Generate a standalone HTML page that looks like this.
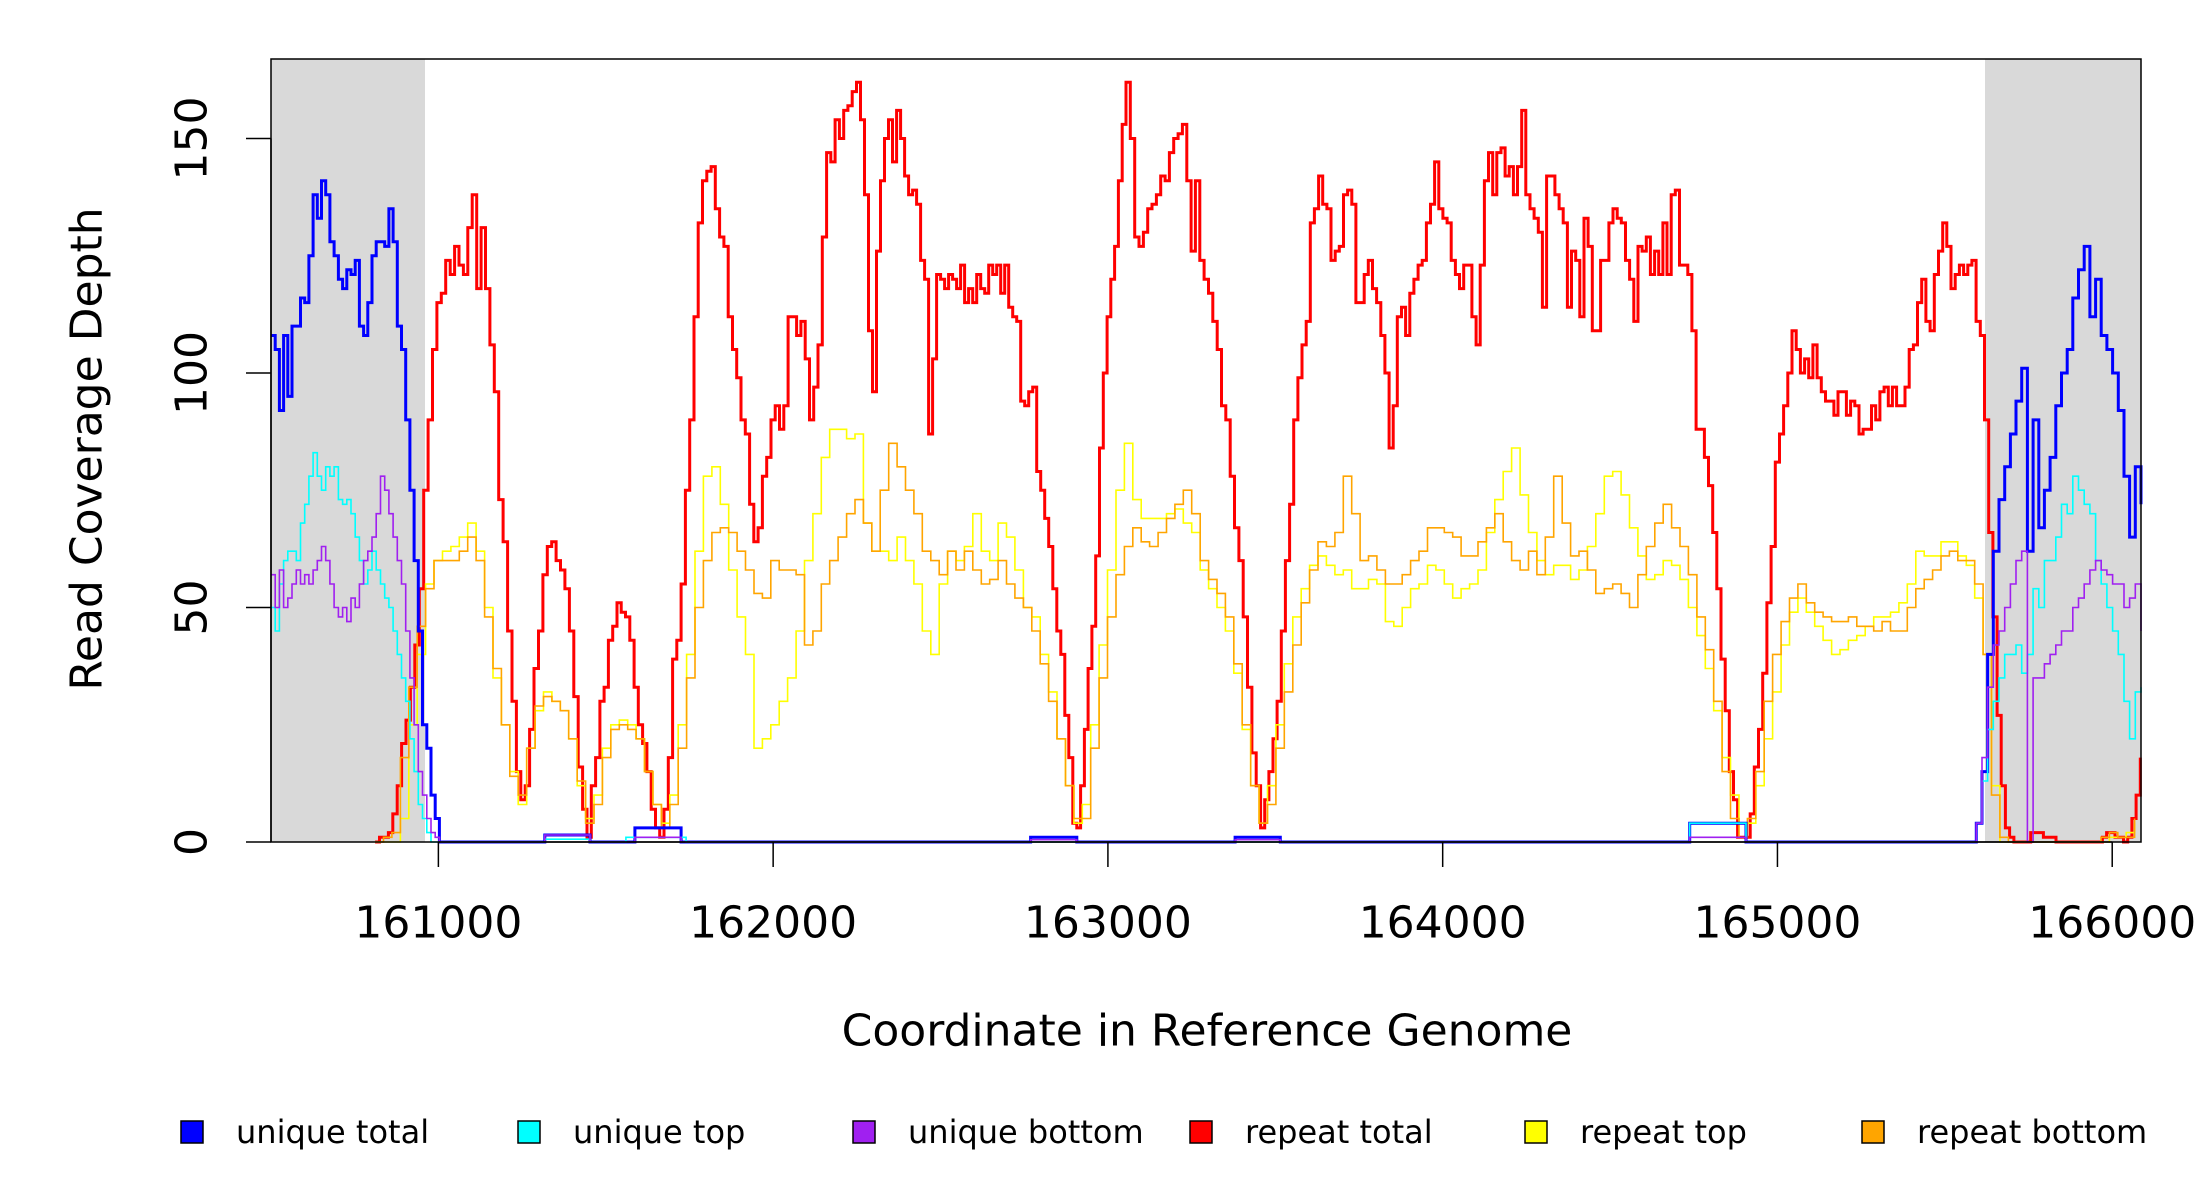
<!DOCTYPE html>
<html><head><meta charset="utf-8">
<style>
html,body{margin:0;padding:0;background:#fff;}
svg{display:block;font-family:"DejaVu Sans","Liberation Sans",sans-serif;}
</style></head>
<body>
<svg id="chart" width="2200" height="1200" viewBox="0 0 2200 1200" xmlns="http://www.w3.org/2000/svg">
<rect x="0" y="0" width="2200" height="1200" fill="#fff"/>
<g id="shade"></g>
<g id="series"></g>
<rect x="271" y="59" width="1870" height="783" fill="none" stroke="#000" stroke-width="1.5"/>
<g id="yaxis"></g>
<g id="xaxis"></g>
<text x="87" y="449" transform="rotate(-90 87 449)" text-anchor="middle" dominant-baseline="central" font-size="44">Read Coverage Depth</text>
<text x="1207" y="1031" text-anchor="middle" dominant-baseline="central" font-size="44">Coordinate in Reference Genome</text>
<g id="legend"></g>
</svg>
<script>
// ---- data ----
const xTicks = [161000, 162000, 163000, 164000, 165000, 166000];
const yTicks = [0, 50, 100, 150];
const shadeRegions = [[160500, 160960], [165620, 166086]];
const seriesNames = ["unique total", "unique top", "unique bottom", "repeat total", "repeat top", "repeat bottom"];
const seriesColors = ["#0000ff", "#00ffff", "#a020f0", "#ff0000", "#ffff00", "#ffa500"];

// genome position anchors for the repeat-total samples (sample index -> coordinate)
const repeatTotalAnchorIdx = [0, 48, 111, 166, 179, 210, 273, 325, 389, 421];
const repeatTotalAnchorPos = [160811, 161444, 162249, 162907, 163054, 163456, 164236, 164881, 165681, 166084];
const repeatTotal = [0,1,1,2,6,12,21,26,33,42,54,75,90,105,115,117,124,121,127,123,121,131,138,118,131,118,106,96,73,64,45,30,15,9,12,24,37,45,57,63,64,60,58,54,45,31,16,7,1,12,18,30,33,43,46,51,49,48,43,33,25,21,15,7,3,1,7,18,39,43,55,75,90,112,132,141,143,144,135,129,127,112,105,99,90,87,72,64,67,78,82,90,93,88,93,112,112,108,111,103,90,97,106,129,147,145,154,150,156,157,160,162,154,138,109,96,126,141,150,154,145,156,150,142,138,139,136,124,120,87,103,121,120,118,121,120,118,123,115,118,115,121,118,117,123,121,123,117,123,114,112,111,94,93,96,97,79,75,69,63,54,45,40,27,18,4,3,12,24,37,46,61,84,100,112,120,127,141,153,162,150,129,127,130,135,136,138,142,141,147,150,151,153,141,126,141,124,120,117,111,105,93,90,78,67,60,48,33,19,12,3,9,15,22,30,45,60,72,90,99,106,111,132,135,142,136,135,124,126,127,138,139,136,115,115,121,124,118,115,108,100,84,93,112,114,108,117,120,123,124,132,136,145,135,133,132,124,121,118,123,123,112,106,123,141,147,138,147,148,142,144,138,144,156,138,135,133,130,114,142,142,138,135,132,114,126,124,112,133,127,109,109,124,124,132,135,133,132,124,120,111,127,126,129,121,126,121,132,121,138,139,123,123,121,109,88,88,82,76,66,54,39,28,15,9,1,1,1,6,16,24,36,51,63,81,87,93,100,109,105,100,103,99,106,99,96,94,94,91,96,96,91,94,93,87,88,88,93,90,96,97,93,97,93,93,97,105,106,115,120,111,109,121,126,132,127,118,121,123,121,123,124,111,108,90,66,48,27,12,3,1,0,0,0,0,2,2,2,1,1,1,0,0,0,0,0,0,0,0,0,0,0,1,2,2,1,1,0,1,5,10,18];

const repeatStrandStart = 160811, repeatStrandEnd = 166067;
const repeatBottom = [0,1,2,18,33,46,54,60,60,60,62,65,60,48,37,25,14,10,20,29,31,30,28,22,13,4,8,18,24,25,24,22,15,8,3,8,20,35,50,60,66,67,66,62,58,53,52,60,58,58,57,42,45,55,60,65,70,73,68,62,75,85,80,75,70,62,60,57,62,58,62,58,55,56,60,55,52,50,45,38,30,22,12,5,5,20,35,48,57,63,67,64,63,66,69,72,75,70,60,56,53,48,38,25,12,4,8,20,32,42,51,58,64,63,66,78,70,60,61,58,55,55,57,60,62,67,67,66,65,61,61,64,67,70,64,60,58,62,57,65,78,68,61,62,58,53,54,55,53,50,57,63,68,72,67,63,57,48,41,30,15,5,1,5,15,30,40,47,52,55,51,49,48,47,47,48,46,46,45,47,45,45,50,54,56,58,61,62,60,60,55,40,10,1,0,0,0,0,0,0,0,0,0,0,0,1,2,1,1,5];
const repeatTop = [0,0,0,5,25,40,55,60,62,63,65,68,62,50,35,25,15,8,20,28,32,30,28,22,12,5,10,20,25,26,25,22,15,8,4,10,25,40,62,78,80,72,58,48,40,20,22,25,30,35,45,60,70,82,88,88,86,87,68,62,62,60,65,60,55,45,40,55,62,60,63,70,62,60,68,65,58,50,48,40,32,22,12,4,8,25,42,58,75,85,73,69,69,69,70,71,68,66,58,54,50,45,36,24,12,4,12,25,38,48,54,59,61,59,57,58,54,54,56,55,47,46,50,54,55,59,58,55,52,54,55,58,66,73,79,84,74,66,60,57,59,59,56,58,63,70,78,79,74,67,61,56,57,60,59,56,50,44,37,28,18,10,4,4,12,22,32,42,49,52,49,46,43,40,41,43,44,46,48,48,49,51,55,62,61,61,64,64,61,59,52,40,12,0,0,0,0,0,0,0,0,0,0,0,0,0,1,1,2,4];

const uniqueLeftStart = 160500, uniqueLeftEnd = 161003;
const uniqueTotalLeft = [108,105,92,108,95,110,110,116,115,125,138,133,141,138,128,125,120,118,122,121,124,110,108,115,125,128,128,127,135,128,110,105,90,75,60,45,25,20,10,5,0];
const uniqueTopLeft = [50,45,55,60,62,62,60,68,72,78,83,78,75,80,78,80,73,72,73,70,65,60,55,58,62,58,55,52,50,45,40,35,30,22,15,8,5,2,0,0,0];
const uniqueBottomLeft = [57,50,58,50,52,55,58,55,57,55,58,60,63,60,55,50,48,50,47,52,50,55,60,62,65,70,78,75,70,65,60,55,45,35,25,15,10,5,2,1,0];

const uniqueRightStart = 165577, uniqueRightEnd = 166086;
const uniqueTotalRight = [0,4,15,40,62,73,80,87,94,101,62,90,67,75,82,93,100,105,116,122,127,112,120,108,105,100,92,78,65,80,72];
const uniqueTopRight = [0,4,13,24,30,35,40,40,42,36,40,54,50,60,60,65,72,70,78,75,72,70,60,55,50,45,40,30,22,32,33];
const uniqueBottomRight = [0,4,18,33,42,45,50,55,60,62,0,35,35,38,40,42,45,45,50,52,55,58,60,58,57,55,55,50,52,55,45];

// small mid-range bumps: [start, end, depth]
const uniqueTotalBumps = [[161318,161453,1.5],[161587,161725,3],[162769,162907,1],[163380,163515,1],[164738,164906,4]];
const uniqueTopBumps = [[161318,161453,0.6],[161560,161740,1],[164738,164906,4]];
const uniqueBottomBumps = [[161318,161453,1.5],[161587,161725,1],[162769,162907,0.5],[163380,163515,0.5],[164738,164906,1]];

// ---- scales ----
const X0 = 160500, X1 = 166086, PX0 = 271, PX1 = 2141;
const PY0 = 842, PPU = (842 - 138.5) / 150;
function sx(c){ return PX0 + (c - X0) * (PX1 - PX0) / (X1 - X0); }
function sy(v){ return PY0 - v * PPU; }
const NS = "http://www.w3.org/2000/svg";
function mk(tag, attrs, parent){ const e = document.createElementNS(NS, tag); for (const k in attrs) e.setAttribute(k, attrs[k]); parent.appendChild(e); return e; }

function gridPoints(start, end, vals){
  const step = (end - start) / (vals.length - 1);
  return vals.map((v, i) => [start + i * step, v]);
}
function anchoredPoints(idx, pos, vals){
  return vals.map((v, i) => {
    let k = 0;
    while (k < idx.length - 2 && i > idx[k + 1]) k++;
    const t = (i - idx[k]) / (idx[k + 1] - idx[k]);
    return [pos[k] + t * (pos[k + 1] - pos[k]), v];
  });
}
function stepPath(pts){
  let d = "M" + sx(pts[0][0]).toFixed(1) + "," + sy(pts[0][1]).toFixed(1);
  for (let i = 1; i < pts.length; i++){
    d += "H" + sx(pts[i][0]).toFixed(1) + "V" + sy(pts[i][1]).toFixed(1);
  }
  return d;
}
function uniquePoints(left, right, bumps){
  let pts = gridPoints(uniqueLeftStart, uniqueLeftEnd, left);
  bumps.forEach(b => { pts.push([b[0], 0]); pts.push([b[0], b[2]]); pts.push([b[1], 0]); });
  pts.push([uniqueRightStart, 0]);
  pts = pts.concat(gridPoints(uniqueRightStart, uniqueRightEnd, right));
  return pts;
}

// shading
const shade = document.getElementById("shade");
shadeRegions.forEach((r, i) => {
  const e = mk("rect", {x: sx(r[0]), y: 59, width: sx(r[1]) - sx(r[0]), height: 783, fill: "#d9d9d9"}, shade);
  
  
});

// series
const sg = document.getElementById("series");
const drawList = [
  {name: "repeat-total-line", pts: anchoredPoints(repeatTotalAnchorIdx, repeatTotalAnchorPos, repeatTotal), color: seriesColors[3], w: 3},
  {name: "repeat-top-line", pts: gridPoints(repeatStrandStart, repeatStrandEnd, repeatTop), color: seriesColors[4], w: 1.6},
  {name: "repeat-bottom-line", pts: gridPoints(repeatStrandStart, repeatStrandEnd, repeatBottom), color: seriesColors[5], w: 1.6},
  {name: "unique-total-line", pts: uniquePoints(uniqueTotalLeft, uniqueTotalRight, uniqueTotalBumps), color: seriesColors[0], w: 3},
  {name: "unique-top-line", pts: uniquePoints(uniqueTopLeft, uniqueTopRight, uniqueTopBumps), color: seriesColors[1], w: 1.6},
  {name: "unique-bottom-line", pts: uniquePoints(uniqueBottomLeft, uniqueBottomRight, uniqueBottomBumps), color: seriesColors[2], w: 1.6}
];
drawList.forEach(s => {
  const p = mk("path", {d: stepPath(s.pts), fill: "none", stroke: s.color, "stroke-width": s.w, "stroke-linejoin": "miter"}, sg);
  
  
});

// y axis
const ya = document.getElementById("yaxis");
const yl = mk("line", {x1: 271, x2: 271, y1: sy(0), y2: sy(150), stroke: "#000", "stroke-width": 1.5}, ya);


yTicks.forEach(v => {
  const t = mk("line", {x1: 246, x2: 271, y1: sy(v), y2: sy(v), stroke: "#000", "stroke-width": 1.5}, ya);
  
  
  const tx = mk("text", {x: 192, y: sy(v), transform: "rotate(-90 192 " + sy(v) + ")", "text-anchor": "middle", "dominant-baseline": "central", "font-size": 44}, ya);
  tx.textContent = String(v);
  
  
});

// x axis
const xa = document.getElementById("xaxis");
const xl = mk("line", {x1: sx(xTicks[0]), x2: sx(xTicks[xTicks.length-1]), y1: 842, y2: 842, stroke: "#000", "stroke-width": 1.5}, xa);


xTicks.forEach(v => {
  const t = mk("line", {x1: sx(v), x2: sx(v), y1: 842, y2: 867, stroke: "#000", "stroke-width": 1.5}, xa);
  
  
  const tx = mk("text", {x: sx(v), y: 923, "text-anchor": "middle", "dominant-baseline": "central", "font-size": 44}, xa);
  tx.textContent = String(v);
  
  
});

// legend
const lg = document.getElementById("legend");
const legX = [192, 529, 864, 1201, 1536, 1873];
seriesNames.forEach((n, i) => {
  const g = mk("g", {}, lg);
  
  
  const r = mk("rect", {x: legX[i] - 11, y: 1121, width: 22, height: 22, fill: seriesColors[i], stroke: "#000", "stroke-width": 1.5}, g);
  
  
  const t = mk("text", {x: legX[i] + 44, y: 1143, "font-size": 32}, g);
  t.textContent = n;
  
  
});
</script>
</body></html>
